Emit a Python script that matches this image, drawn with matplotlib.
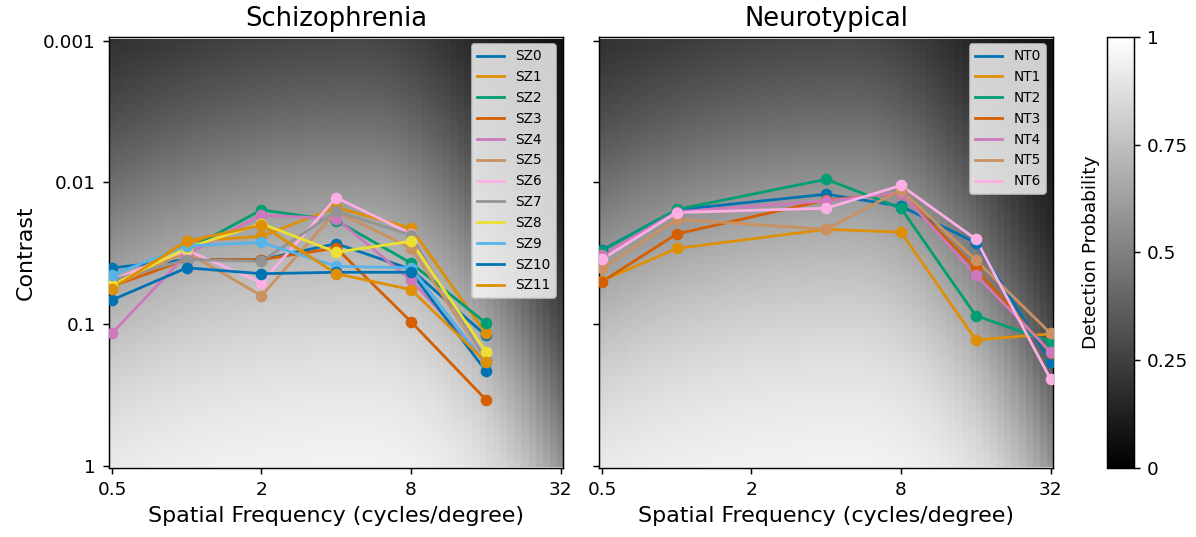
#! /usr/bin/env python3

import numpy as np
import matplotlib
matplotlib.use('Agg')
import matplotlib.pyplot as plt

# spatial frequencies (cycles/degree) tested in each group
sz_freqs = [0.5, 1, 2, 4, 8, 16]
nt_freqs = [0.5, 1, 4, 8, 16, 32]

# contrast thresholds per participant
sz_thresholds = {
    'SZ0': [0.040, 0.035, 0.035, 0.027, 0.041, 0.120],
    'SZ1': [0.054, 0.026, 0.024, 0.015, 0.021, 0.116],
    'SZ2': [0.052, 0.030, 0.0156, 0.0186, 0.037, 0.098],
    'SZ3': [0.054, 0.035, 0.035, 0.029, 0.096, 0.340],
    'SZ4': [0.116, 0.032, 0.017, 0.018, 0.049, 0.180],
    'SZ5': [0.054, 0.031, 0.063, 0.016, 0.029, 0.180],
    'SZ6': [0.049, 0.030, 0.051, 0.0128, 0.023, 0.184],
    'SZ7': [0.049, 0.035, 0.036, 0.016, 0.0235, 0.180],
    'SZ8': [0.053, 0.029, 0.0195, 0.031, 0.026, 0.156],
    'SZ9': [0.045, 0.028, 0.0265, 0.039, 0.040, 0.190],
    'SZ10': [0.0675, 0.040, 0.044, 0.043, 0.043, 0.213],
    'SZ11': [0.056, 0.026, 0.020, 0.044, 0.057, 0.184],
}
nt_thresholds = {
    'NT0': [0.030, 0.0156, 0.0121, 0.0147, 0.0266, 0.184],
    'NT1': [0.0493, 0.0292, 0.0214, 0.0224, 0.129, 0.117],
    'NT2': [0.0303, 0.0155, 0.0095, 0.0152, 0.087, 0.133],
    'NT3': [0.0501, 0.0231, 0.0133, 0.0119, 0.0404, 0.160],
    'NT4': [0.0325, 0.0161, 0.0135, 0.0118, 0.045, 0.156],
    'NT5': [0.0404, 0.0182, 0.0214, 0.0113, 0.0352, 0.116],
    'NT6': [0.0348, 0.0163, 0.0152, 0.0105, 0.0251, 0.244],
}

# contrast sensitivity model used for the background
csf_peak_log2f = 2.3
csf_min_logc = -2.15
csf_left_curv = 0.04
csf_right_curv = 0.27
psy_slope = 0.75
psy_floor = 0.05

palette = ['#0173b2', '#de8f05', '#029e73', '#d55e00', '#cc78bc',
           '#ca9161', '#fbafe4', '#949494', '#ece133', '#56b4e9']


def detection_prob(f, c):
    d = np.log2(f) - csf_peak_log2f
    k = np.where(d < 0, csf_left_curv, csf_right_curv)
    log_t = csf_min_logc + k * d ** 2
    p = 1 / (1 + np.exp(-(np.log10(c) - log_t) / psy_slope))
    return psy_floor + (1 - psy_floor) * p


def draw_panel(ax, freqs, data, title):
    fg = np.logspace(np.log2(0.5), np.log2(32), 64, base=2)
    cg = np.logspace(-3, 0, 160)
    F, C = np.meshgrid(fg, cg)
    mesh = ax.pcolormesh(F, C, detection_prob(F, C), cmap='gray',
                         vmin=0, vmax=1, shading='nearest')
    for i, (name, vals) in enumerate(data.items()):
        col = palette[i % len(palette)]
        ax.plot(freqs, vals, color=col, lw=1.5, label=name)
        ax.scatter(freqs, vals, color=col, s=28, zorder=3)
    ax.set_xscale('log', base=2)
    ax.set_yscale('log')
    ax.set_xlim(2 ** -1.04, 2 ** 5.032)
    ax.set_ylim(10 ** 0.014, 10 ** -3.026)
    ax.set_xticks([0.5, 2, 8, 32])
    ax.set_xticklabels(['0.5', '2', '8', '32'])
    ax.set_yticks([0.001, 0.01, 0.1, 1])
    ax.set_yticklabels(['0.001', '0.01', '0.1', '1'])
    ax.minorticks_off()
    ax.set_title(title, fontsize=14)
    ax.set_xlabel('Spatial Frequency (cycles/degree)', fontsize=12)
    ax.legend(loc='upper right', fontsize=7.4)
    return mesh


def main():
    fig = plt.figure(figsize=(1196 / 133, 537 / 133), dpi=133)
    ax1 = fig.add_axes([0.0911, 0.1285, 0.3796, 0.8026])
    ax2 = fig.add_axes([0.5008, 0.1285, 0.3796, 0.8026])
    cax = fig.add_axes([0.9256, 0.1285, 0.0226, 0.8026])

    draw_panel(ax1, sz_freqs, sz_thresholds, 'Schizophrenia')
    mesh = draw_panel(ax2, nt_freqs, nt_thresholds, 'Neurotypical')
    ax1.set_ylabel('Contrast', fontsize=12)
    ax2.tick_params(labelleft=False)

    cb = fig.colorbar(mesh, cax=cax)
    cb.set_ticks([0, 0.25, 0.5, 0.75, 1])
    cb.set_ticklabels(['0', '0.25', '0.5', '0.75', '1'])
    cax.yaxis.set_ticks_position('right')
    cb.set_label('Detection Probability')
    cax.yaxis.set_label_position('left')

    fig.savefig('out.png', dpi=133)


if __name__ == '__main__':
    main()
